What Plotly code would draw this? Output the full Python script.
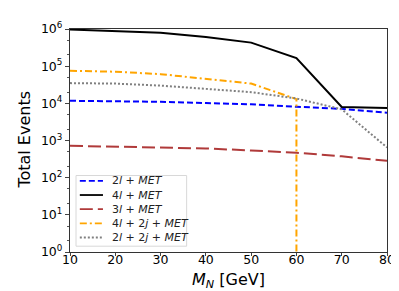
import plotly.graph_objects as go

mass = [10, 20, 30, 40, 50, 60, 70, 80]
ev_2l = [11700, 11500, 11000, 10200, 9400, 8100, 7100, 5600]
ev_4l = [970000, 890000, 790000, 610000, 430000, 165000, 8000, 7500]
ev_3l = [720, 690, 660, 610, 540, 470, 375, 285]
mass_4l2j = [10, 20, 30, 40, 50, 60, 60]
ev_4l2j = [75000, 71000, 61000, 46000, 34000, 13000, 1]
ev_2l2j = [35000, 34000, 30000, 25000, 20000, 13500, 6900, 650]

names = ["2<i>l</i> + <i>MET</i>", "4<i>l</i> + <i>MET</i>", "3<i>l</i> + <i>MET</i>",
         "4<i>l</i> + 2<i>j</i> + <i>MET</i>", "2<i>l</i> + 2<i>j</i> + <i>MET</i>"]

xticks = [10, 20, 30, 40, 50, 60, 70, 80]
yticks = [1, 10, 100, 1000, 10000, 100000, 1000000]
yticktext = ["10<sup>%d</sup>" % i for i in range(7)]

styles = [
    dict(color="#0000ff", width=2, dash="6px,3px"),
    dict(color="black", width=2),
    dict(color="#b03a3a", width=2, dash="13px,5px"),
    dict(color="#ffa500", width=2, dash="7px,3px,2px,3px"),
    dict(color="#808080", width=2, dash="2px,2px"),
]
series = [(mass, ev_2l), (mass, ev_4l), (mass, ev_3l), (mass_4l2j, ev_4l2j), (mass, ev_2l2j)]

fig = go.Figure()
for (xs, ys), nm, st in zip(series, names, styles):
    fig.add_trace(go.Scatter(x=xs, y=ys, mode="lines", name=nm, line=st, showlegend=False))

# hand-built compact legend (matplotlib-like)
shapes = [dict(type="rect", xref="paper", yref="paper", x0=0.019, x1=0.368, y0=0.026, y1=0.343,
               line=dict(color="#d8d8d8", width=1), fillcolor="rgba(255,255,255,0.85)", layer="above")]
annotations = []
row_y0, row_step = 0.319, 0.0635
for i, (nm, st) in enumerate(zip(names, styles)):
    yy = row_y0 - i * row_step
    s = dict(st)
    s["width"] = 1.8
    shapes.append(dict(type="line", xref="paper", yref="paper", x0=0.031, x1=0.104, y0=yy, y1=yy,
                       line=s, layer="above"))
    annotations.append(dict(text=nm, xref="paper", yref="paper", x=0.127, y=yy, xanchor="left",
                            yanchor="middle", showarrow=False, font=dict(size=11, color="#222222")))

# axis titles
annotations.append(dict(text="<i>M<sub>N</sub></i> [GeV]", xref="paper", yref="paper",
                        x=0.5, y=-0.128, xanchor="center", yanchor="middle", showarrow=False,
                        font=dict(size=16)))
annotations.append(dict(text="Total Events", xref="paper", yref="paper", textangle=-90,
                        x=-0.142, y=0.504, xanchor="center", yanchor="middle", showarrow=False,
                        font=dict(size=16)))

fig.update_layout(
    width=399, height=291,
    margin=dict(l=62, r=19, t=14, b=47),
    paper_bgcolor="white", plot_bgcolor="white",
    font=dict(family="DejaVu Sans", color="black"),
    showlegend=False,
    shapes=shapes, annotations=annotations,
)
fig.update_xaxes(range=[10, 80], tickvals=xticks, ticks="outside", ticklen=3,
                 tickfont=dict(size=12.5), ticklabelstandoff=-7, showgrid=False, zeroline=False,
                 showline=True, linecolor="#333333", linewidth=1.2, mirror=True)
fig.update_yaxes(type="log", range=[0, 6], tickvals=yticks, ticktext=yticktext,
                 ticks="outside", ticklen=4, tickfont=dict(size=12.5), showgrid=False,
                 zeroline=False, showline=True, linecolor="#333333", linewidth=1.2, mirror=True,
                 minor=dict(ticks="outside", ticklen=2, tickcolor="#555555"))

fig.write_html("out.html")
